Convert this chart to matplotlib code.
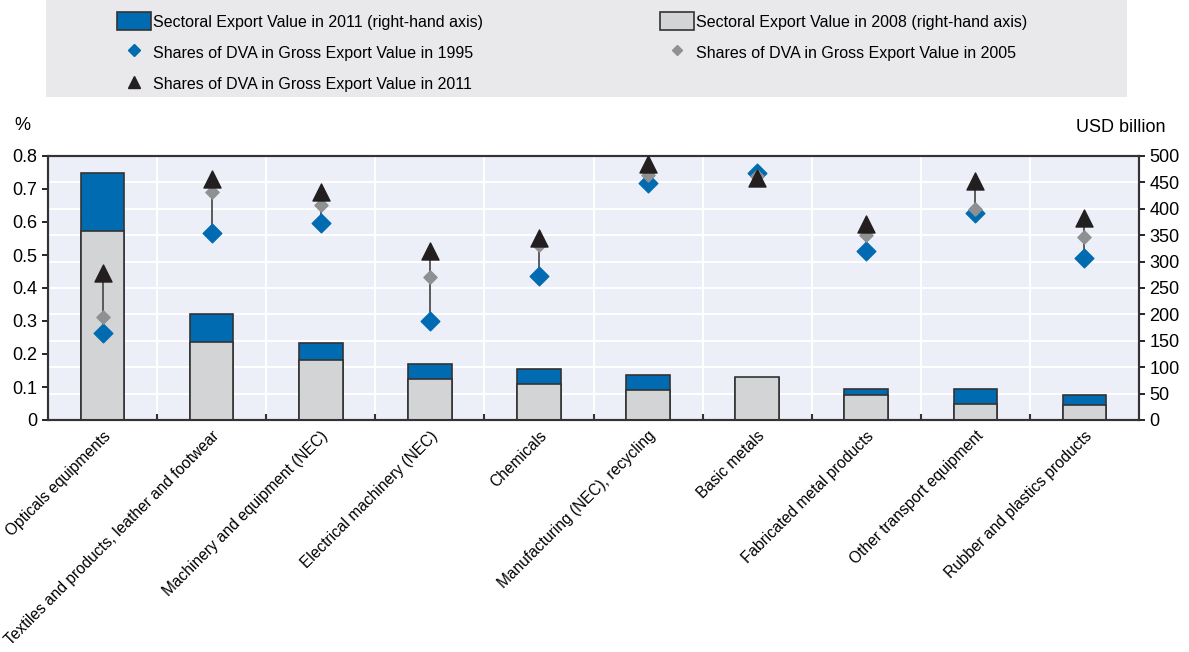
import matplotlib.pyplot as plt
from matplotlib import font_manager
import numpy as np

# pick a narrow font if available
names = {f.name for f in font_manager.fontManager.ttflist}
fam = 'Liberation Sans Narrow' if 'Liberation Sans Narrow' in names else 'Liberation Sans'
plt.rcParams['font.family'] = [fam, 'DejaVu Sans']

# data
sectors = ["Opticals equipments", "Textiles and products, leather and footwear",
           "Machinery and equipment (NEC)", "Electrical machinery (NEC)", "Chemicals",
           "Manufacturing (NEC), recycling", "Basic metals", "Fabricated metal products",
           "Other transport equipment", "Rubber and plastics products"]
export_2011 = [467, 201, 145, 107, 96, 85, 79, 58, 58, 47]
export_2008 = [358, 147, 113, 77, 68, 57, 82, 47, 31, 29]
dva_1995 = [0.263, 0.566, 0.598, 0.301, 0.436, 0.719, 0.748, 0.513, 0.628, 0.491]
dva_2005 = [0.311, 0.690, 0.652, 0.432, 0.530, 0.742, 0.740, 0.560, 0.640, 0.555]
dva_2011 = [0.445, 0.730, 0.692, 0.512, 0.552, 0.775, 0.734, 0.594, 0.724, 0.613]

blue = '#006BB0'
grey_bar = '#D3D4D6'
grey_dia = '#8F9091'
dark = '#231F20'

fig = plt.figure(figsize=(11.89, 6.52), dpi=100)
ax = fig.add_axes([48/1189, 1-420/652, (1139-48)/1189, (420-156)/652])
ax2 = ax.twinx()
ax.set_zorder(ax2.get_zorder() + 1)
ax.patch.set_visible(False)
ax2.patch.set_visible(True)
ax2.set_facecolor('#ECEFF7')

x = np.arange(len(sectors))

# bars on right axis (2011 behind, 2008 in front)
ax2.bar(x, export_2011, width=0.4, color=blue, edgecolor='#333333', linewidth=1.2, zorder=2)
ax2.bar(x, export_2008, width=0.4, color=grey_bar, edgecolor='#333333', linewidth=1.2, zorder=3)
ax2.set_ylim(0, 500)
ax2.set_yticks(np.arange(0, 501, 50))
ax2.set_xlim(-0.5, len(sectors) - 0.5)
ax2.yaxis.grid(True, color='white', linewidth=1.5, zorder=0)
for b in np.arange(0.5, len(sectors) - 0.5, 1):
    ax2.axvline(b, color='white', linewidth=1.5, zorder=0)
ax2.set_axisbelow(True)

# markers on left axis
for i in range(len(sectors)):
    ax.plot([x[i], x[i]], [dva_1995[i], dva_2011[i]], color='#505050', linewidth=1.3, zorder=3)
ax.scatter(x, dva_1995, marker='D', s=90, color=blue, zorder=4)
ax.scatter(x, dva_2005, marker='D', s=45, color=grey_dia, zorder=5)
ax.scatter(x, dva_2011, marker='^', s=150, color=dark, zorder=6)
ax.set_ylim(0, 0.8)
ax.set_yticks(np.arange(0, 0.81, 0.1))
ax.set_yticklabels(['0'] + ['%.1f' % v for v in np.arange(0.1, 0.81, 0.1)])
ax.set_xlim(-0.5, len(sectors) - 0.5)
ax.set_xticks(x)
ax.set_xticklabels(sectors, rotation=45, ha='right', rotation_mode='anchor', fontsize=11.2)
ax.set_xticks(np.arange(0.5, len(sectors) - 0.5, 1), minor=True)
ax.tick_params(axis='x', which='major', length=0, pad=6)
ax.tick_params(axis='x', which='minor', length=4, direction='in', width=1.5, color='#333333')

for a in (ax, ax2):
    for s in a.spines.values():
        s.set_color('#333333')
        s.set_linewidth(1.5)
ax.tick_params(axis='y', labelsize=13, length=4, direction='out', width=1.2)
ax2.tick_params(axis='y', labelsize=13, length=4, direction='out', width=1.2)
ax2.tick_params(axis='x', length=0)

fig.text(22/1189, 1-126/652, '%', fontsize=13, ha='center', va='center')
fig.text(1166/1189, 1-128/652, 'USD billion', fontsize=13, ha='right', va='center')

# legend box
fig.patches.append(plt.Rectangle((46/1189, 1-97/652), (1127-46)/1189, 97/652,
                                 transform=fig.transFigure, facecolor='#E9E9EC',
                                 edgecolor='none', zorder=0))
h1 = plt.Rectangle((0, 0), 1, 1, facecolor=blue, edgecolor='#333333', linewidth=1.2)
h2 = plt.Rectangle((0, 0), 1, 1, facecolor=grey_bar, edgecolor='#333333', linewidth=1.2)
h3 = plt.Line2D([], [], marker='D', color=blue, linestyle='none', markersize=6)
h4 = plt.Line2D([], [], marker='D', color=grey_dia, linestyle='none', markersize=5)
h5 = plt.Line2D([], [], marker='^', color=dark, linestyle='none', markersize=8)
leg_kw = dict(loc='upper left', frameon=False, fontsize=11.5, handlelength=2.1,
              handleheight=1.4, handletextpad=0.15, labelspacing=0.8,
              borderpad=0, borderaxespad=0)
fig.legend([h1, h3, h5], ['Sectoral Export Value in 2011 (right-hand axis)',
                          'Shares of DVA in Gross Export Value in 1995',
                          'Shares of DVA in Gross Export Value in 2011'],
           bbox_to_anchor=(117/1189, 1-12/652), **leg_kw)
fig.legend([h2, h4], ['Sectoral Export Value in 2008 (right-hand axis)',
                      'Shares of DVA in Gross Export Value in 2005'],
           bbox_to_anchor=(660/1189, 1-12/652), **leg_kw)

fig.savefig('out.png', dpi=100)
